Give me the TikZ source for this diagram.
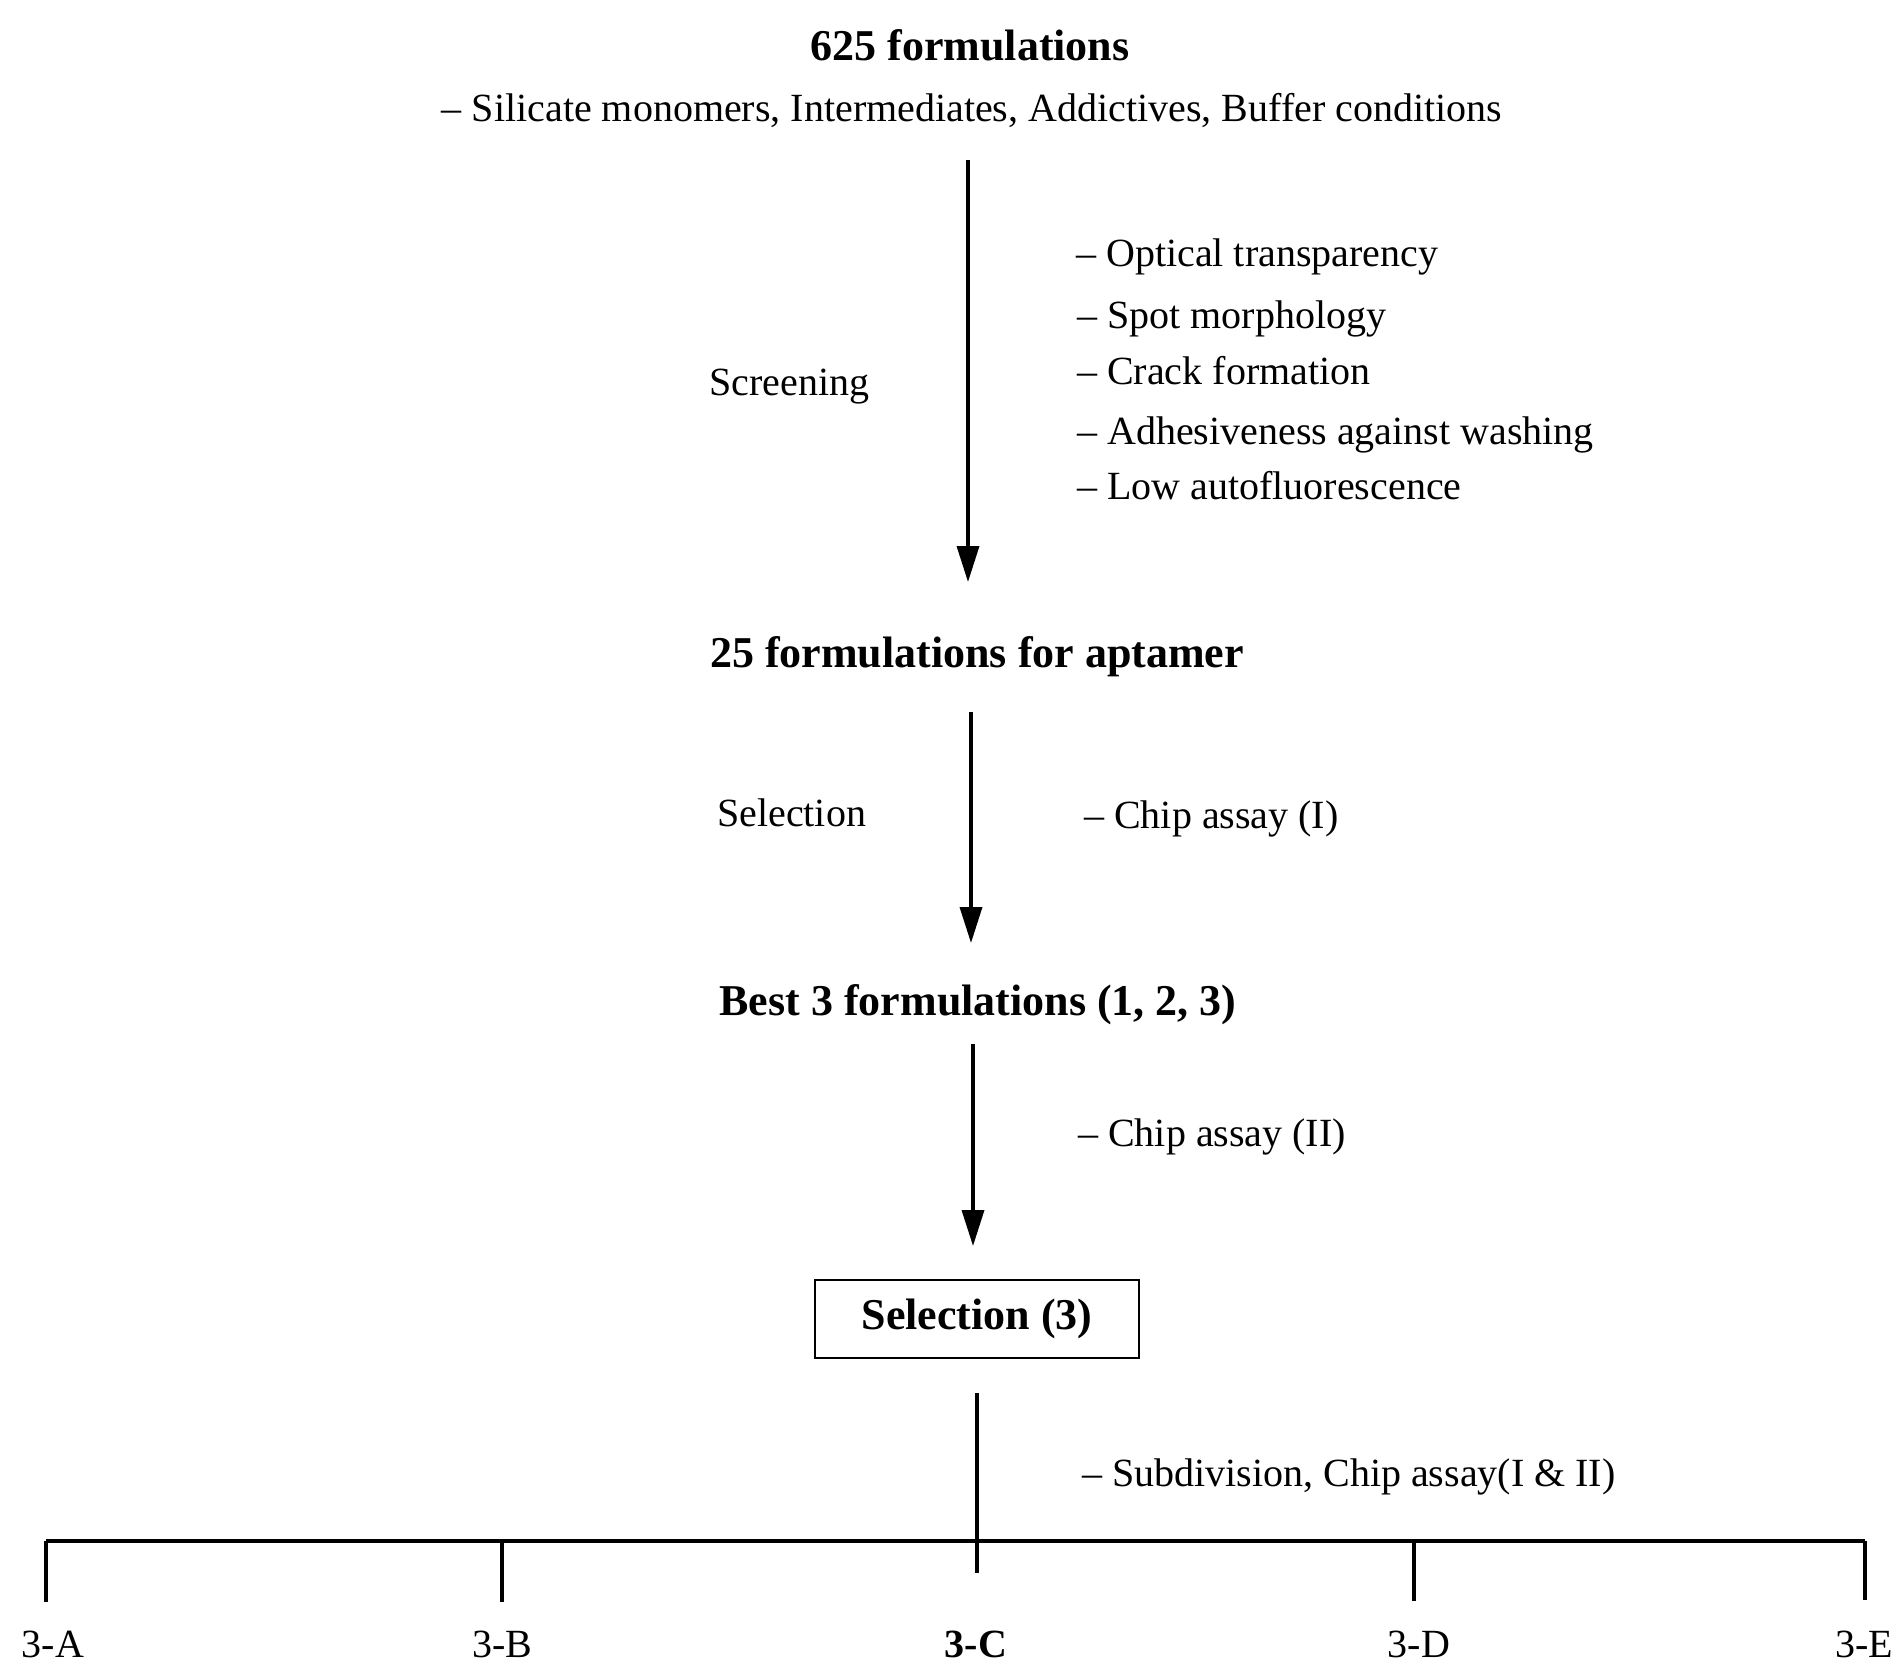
\documentclass[tikz,border=0pt]{standalone}
\usepackage{fontspec}
\setmainfont{Liberation Serif}
\usetikzlibrary{arrows.meta}
\begin{document}
\begin{tikzpicture}[x=1pt,y=-1pt,
  head/.style={font=\fontsize{44}{50}\selectfont\bfseries, inner sep=0pt, anchor=base},
  txt/.style={font=\fontsize{40}{46}\selectfont, inner sep=0pt, anchor=base west},
  lbl/.style={font=\fontsize{40}{46}\selectfont, inner sep=0pt, anchor=base},
  arr/.style={line width=3.5pt, -{Triangle[length=36pt,width=22pt]}},
  bar/.style={line width=4.5pt},
  tick/.style={line width=3.5pt}]
\useasboundingbox[fill=white] (0,0) rectangle (1900,1662);

% headings
\node[head] (n625) at (970,61) {625 formulations};
\node[lbl] (sub) at (972,121) {– Silicate monomers, Intermediates, Addictives, Buffer conditions};
\node[head] (n25) at (977,667) {25 formulations for aptamer};
\node[head] (best) at (978,1015) {Best 3 formulations (1, 2, 3)};
\node[draw, line width=2.5pt, minimum width=324pt, minimum height=78pt,
      font=\fontsize{44}{50}\selectfont\bfseries] (box) at (977,1319) {Selection (3)};

% side texts
\node[txt] (scr) at (709,395) {Screening};
\node[txt] (c1) at (1076,266) {– Optical transparency};
\node[txt] (c2) at (1077,328) {– Spot morphology};
\node[txt] (c3) at (1077,384) {– Crack formation};
\node[txt] (c4) at (1077,444) {– Adhesiveness against washing};
\node[txt] (c5) at (1077,499) {– Low autofluorescence};
\node[txt] (sel) at (717,826) {Selection};
\node[txt] (ca1) at (1084,828) {– Chip assay (I)};
\node[txt] (ca2) at (1078,1146) {– Chip assay (II)};
\node[txt] (subd) at (1082,1486) {– Subdivision, Chip assay(I \& II)};

% arrows
\coordinate (a1s) at (968,160);  \coordinate (a1e) at (968,582);
\coordinate (a2s) at (971,712);  \coordinate (a2e) at (971,943);
\coordinate (a3s) at (973,1044); \coordinate (a3e) at (973,1246);
\draw[arr] (a1s) -- (a1e);
\draw[arr] (a2s) -- (a2e);
\draw[arr] (a3s) -- (a3e);

% tree
\coordinate (ts) at (977,1393);
\coordinate (tA) at (46,1541);
\coordinate (tB) at (502,1541);
\coordinate (tC) at (977,1541);
\coordinate (tD) at (1414,1541);
\coordinate (tE) at (1865,1541);
\coordinate (eA) at (46,1602);
\coordinate (eB) at (502,1602);
\coordinate (eC) at (977,1573);
\coordinate (eD) at (1414,1601);
\coordinate (eE) at (1865,1600);
\draw[bar] (tA) -- (tE);
\draw[tick] (ts) -- (eC);
\draw[tick] (tA) -- (eA);
\draw[tick] (tB) -- (eB);
\draw[tick] (tD) -- (eD);
\draw[tick] (tE) -- (eE);

\node[lbl] (lA) at (53,1657) {3-A};
\node[lbl] (lB) at (502,1657) {3-B};
\node[lbl, font=\fontsize{40}{46}\selectfont\bfseries] (lC) at (976,1657) {3-C};
\node[lbl] (lD) at (1419,1657) {3-D};
\node[lbl] (lE) at (1864,1657) {3-E};
\end{tikzpicture}
\end{document}
